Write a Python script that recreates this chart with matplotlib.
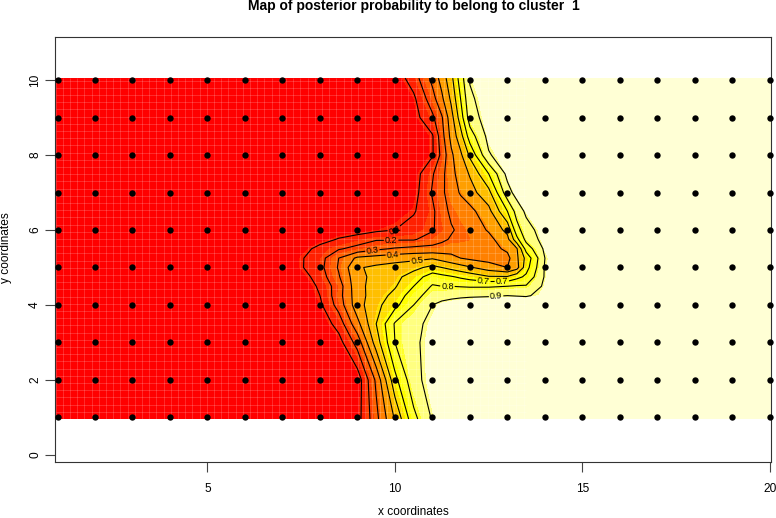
import matplotlib
matplotlib.use('Agg')
import matplotlib.pyplot as plt
import numpy as np

plt.rcParams['font.family'] = ['Liberation Sans', 'DejaVu Sans']

# posterior probability, on an uneven grid
x_grid = [0.95, 7, 7.5, 8, 8.5, 9, 9.5, 10, 10.5, 11, 11.25, 11.5, 11.75, 12, 12.5, 13, 13.25, 13.5, 14, 14.5, 15, 20.05]
y_grid = [0.96, 2, 3, 3.5, 4, 4.25, 4.5, 4.75, 5, 5.25, 5.5, 5.75, 6, 6.5, 7, 7.5, 8, 8.5, 9, 9.5, 10.05]
posterior = [
    [0, 0, 0, 0, .01, .06, .27, .51, .77, .91, .94, .97, .98, .99, 1, 1, 1, 1, 1, 1, 1, 1],
    [0, 0, 0, 0, .01, .04, .32, .67, .87, .94, .96, .98, .985, .99, 1, 1, 1, 1, 1, 1, 1, 1],
    [0, 0, 0, .02, .06, .24, .55, .80, .88, .94, .955, .97, .98, .99, .99, 1, 1, 1, 1, 1, 1, 1],
    [0, 0, .01, .03, .14, .37, .60, .81, .87, .93, .95, .97, .98, .99, .99, 1, 1, 1, 1, 1, 1, 1],
    [0, 0, .02, .08, .24, .46, .57, .67, .80, .90, .93, .95, .96, .97, .98, .99, .99, .99, .99, 1, 1, 1],
    [0, 0, .02, .10, .26, .46, .55, .63, .76, .85, .86, .87, .88, .885, .89, .90, .895, .89, .93, .99, 1, 1],
    [0, 0, .02, .12, .25, .47, .54, .59, .70, .81, .80, .80, .795, .79, .79, .80, .81, .81, .92, .99, 1, 1],
    [0, 0, .05, .15, .29, .47, .53, .57, .65, .75, .73, .71, .685, .66, .61, .61, .67, .72, .91, .99, 1, 1],
    [0, 0, .09, .17, .31, .49, .52, .54, .57, .63, .60, .57, .54, .51, .45, .40, .46, .66, .91, .995, 1, 1],
    [0, 0, .09, .16, .30, .42, .44, .46, .47, .49, .46, .43, .40, .38, .36, .37, .48, .63, .90, .99, 1, 1],
    [0, 0, .05, .14, .19, .23, .28, .31, .33, .33, .34, .36, .355, .35, .36, .42, .49, .74, .92, .99, 1, 1],
    [0, 0, .01, .05, .11, .15, .19, .19, .19, .25, .28, .31, .32, .33, .37, .47, .67, .83, .94, .99, 1, 1],
    [0, 0, 0, .01, .03, .05, .08, .10, .14, .19, .24, .29, .32, .34, .41, .53, .76, .86, .95, .99, 1, 1],
    [0, 0, 0, 0, .01, .02, .03, .05, .09, .18, .26, .32, .345, .37, .47, .70, .84, .92, .98, 1, 1, 1],
    [0, 0, 0, 0, 0, .01, .01, .02, .06, .21, .28, .35, .41, .46, .57, .86, .94, .96, .99, 1, 1, 1],
    [0, 0, 0, 0, 0, 0, .01, .01, .05, .19, .27, .37, .44, .51, .70, .93, .96, .98, .995, 1, 1, 1],
    [0, 0, 0, 0, 0, 0, 0, .01, .04, .09, .23, .38, .48, .62, .89, .96, .98, .99, 1, 1, 1, 1],
    [0, 0, 0, 0, 0, 0, 0, .01, .04, .09, .26, .43, .56, .75, .93, .98, .99, .99, 1, 1, 1, 1],
    [0, 0, 0, 0, 0, 0, 0, .02, .06, .18, .29, .46, .65, .85, .95, .99, 1, 1, 1, 1, 1, 1],
    [0, 0, 0, 0, 0, 0, 0, .03, .08, .26, .38, .52, .70, .88, .96, .99, 1, 1, 1, 1, 1, 1],
    [0, 0, 0, 0, 0, 0, 0, .04, .15, .33, .44, .57, .75, .91, .97, 1, 1, 1, 1, 1, 1, 1],
]
sample_x = list(range(1, 21))
sample_y = list(range(1, 11))
heat_colors = ['#FF0000', '#FF2000', '#FF4000', '#FF6000', '#FF8000', '#FF9F00',
               '#FFBF00', '#FFDF00', '#FFFF00', '#FFFF2A', '#FFFF80', '#FFFFD5']
contour_levels = [.1, .2, .3, .4, .5, .6, .7, .8, .9]
label_spots = [(10, 5.97), (9.9, 5.63), (9.4, 5.44), (9.95, 5.28), (10.6, 5.12),
               (12.85, 4.69), (12.35, 4.59), (11.4, 4.5), (12.7, 4.21)]

fig = plt.figure(figsize=(7.76, 5.18), dpi=100)
ax = fig.add_axes([55 / 776, 1 - 462 / 518, 716 / 776, 425 / 518])

breaks = np.linspace(0, 1, 13)
ax.contourf(x_grid, y_grid, posterior, levels=breaks, colors=heat_colors)

# faint seams of the original raster image, they only show on the warm side
ax.vlines(np.arange(0.95, 13.5, 0.192), 0.96, 10.05, color='white', alpha=0.2, lw=0.6)
ax.hlines(np.arange(0.96, 10.05, 0.192), 0.95, 13.5, color='white', alpha=0.2, lw=0.6)

lines = ax.contour(x_grid, y_grid, posterior, levels=contour_levels, colors='black',
                   linewidths=0.8)
ax.clabel(lines, fmt='%.1f', fontsize=6.5, inline=True, inline_spacing=1, manual=label_spots)

xx, yy = np.meshgrid(sample_x, sample_y)
ax.scatter(xx.ravel(), yy.ravel(), s=21, color='black', zorder=5, clip_on=False, linewidths=0)

ax.set_xlim(0.933, 20.03)
ax.set_ylim(-0.187, 11.147)
ax.set_xticks([5, 10, 15, 20])
ax.set_yticks([0, 2, 4, 6, 8, 10])
ax.tick_params(axis='x', length=7, width=0.8, color='#444444', labelsize=8.6, pad=8)
ax.tick_params(axis='y', length=7, width=0.8, color='#444444', labelsize=8.6, pad=3, labelrotation=90)
for lab in ax.get_yticklabels():
    lab.set_va('center')
for sp in ax.spines.values():
    sp.set_linewidth(0.8)
    sp.set_color('#333333')

fig.text(413.5 / 776, 1 - 6 / 518, 'Map of posterior probability to belong to cluster  1',
         ha='center', va='center', fontsize=10, fontweight='bold')
fig.text(413.5 / 776, 1 - 512 / 518, 'x coordinates', ha='center', va='center', fontsize=8.6)
fig.text(6 / 776, 1 - 248 / 518, 'y coordinates', ha='center', va='center', rotation=90, fontsize=8.6)

fig.savefig('out.png', dpi=100)
